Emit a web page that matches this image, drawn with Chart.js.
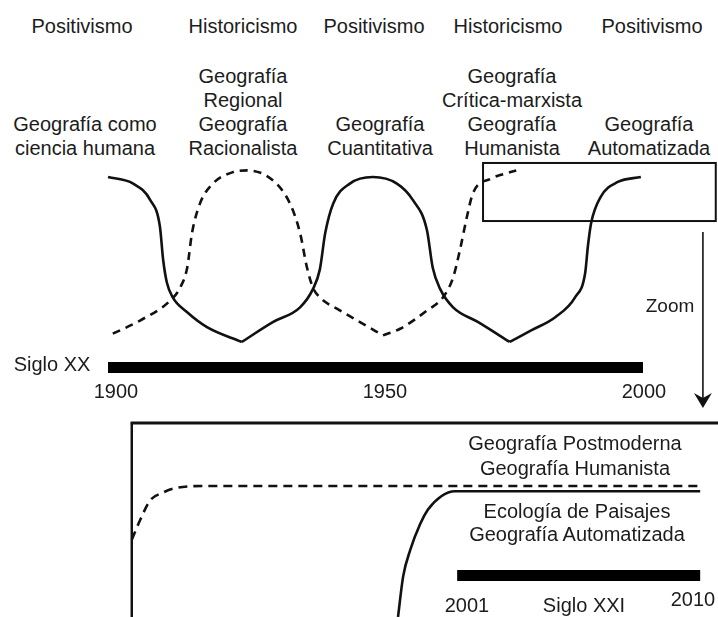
<!DOCTYPE html>
<html>
<head>
<meta charset="utf-8">
<script src="https://cdn.jsdelivr.net/npm/chart.js@4.4.1/dist/chart.umd.min.js"></script>
<style>
    body { margin: 0; background: #fff; }
    #wrap { position: relative; width: 718px; height: 617px; overflow: hidden; background: #fff; }
    canvas { position: absolute; left: 0; }
    .lbl {
        position: absolute;
        transform: translate(-50%, -50%);
        white-space: nowrap;
        text-align: center;
        font: 20px "Liberation Sans", Arial, sans-serif;
        line-height: 24px;
        color: #1c1c1c;
    }
</style>
</head>
<body>
<div id="wrap">
    <canvas id="centuryChart" width="718" height="258" style="top:160px"></canvas>
    <canvas id="zoomChart" width="718" height="199" style="top:418px"></canvas>
</div>
<script>
// Siglo XX: paradigm curves (year, relative weight 0..1)
const solidYears  = [1900, 1904.7, 1907.9, 1909.7, 1910.3, 1911.0, 1912.1, 1914.8, 1918.5, 1925.0,
                     1930.8, 1935.9, 1938.3, 1939.6, 1940.6, 1942.1, 1945.2, 1949.5, 1954.0, 1957.0,
                     1959.6, 1960.7, 1962.1, 1964.5, 1969.2, 1975.1, 1979.1, 1983.6, 1987.3, 1989.2,
                     1989.7, 1990.3, 1992.1, 1995.3, 1999.6];
const solidLevels = [1.00, 0.96, 0.86, 0.70, 0.50, 0.36, 0.27, 0.18, 0.09, 0.00,
                     0.12, 0.21, 0.32, 0.44, 0.66, 0.84, 0.96, 1.00, 0.96, 0.86,
                     0.68, 0.45, 0.32, 0.21, 0.12, 0.00, 0.07, 0.15, 0.27, 0.42,
                     0.58, 0.72, 0.88, 0.97, 1.00];
const solidTroughs = [1925.0, 1975.1];

const dashedYears  = [1900.9, 1906.0, 1911.6, 1913.5, 1914.8, 1915.7, 1917.2, 1919.6, 1923.4, 1926.0,
                      1930.8, 1934.0, 1935.9, 1937.2, 1938.3, 1939.6, 1943.4, 1947.1, 1951.4, 1954.6,
                      1959.6, 1962.6, 1964.5, 1965.8, 1967.1, 1968.2, 1971.6, 1974.2, 1976.3];
const dashedLevels = [0.05, 0.13, 0.25, 0.33, 0.45, 0.66, 0.84, 0.96, 1.03, 1.04,
                      0.98, 0.84, 0.66, 0.45, 0.33, 0.27, 0.19, 0.12, 0.04, 0.08,
                      0.19, 0.27, 0.39, 0.56, 0.76, 0.90, 0.99, 1.02, 1.04];
const dashedTroughs = [1951.4];

const centuryXX = [1900, 2000];
const centuryXXTicks = [1900, 1950, 2000];
const zoomSpan = [1970.1, 2013.6];
const zoomBand = [0.733, 1.085];

// Siglo XXI (zoom)
const zoomDashedYears  = [1988.95, 1989.26, 1989.63, 1990.11, 1990.48, 1991.59, 2010.0];
const zoomDashedLevels = [0.59, 0.74, 0.89, 0.95, 0.98, 1.00, 1.00];
const zoomSolidYears   = [1998.81, 1999.0, 1999.26, 1999.63, 1999.92, 2000.4, 2000.92, 2010.0];
const zoomSolidLevels  = [0.00, 0.31, 0.51, 0.71, 0.82, 0.92, 0.96, 0.96];
const centuryXXI = [2001, 2010];

// Texts
const paradigms = ['Positivismo', 'Historicismo', 'Positivismo', 'Historicismo', 'Positivismo'];
const schools = [
    ['Geografía como', 'ciencia humana'],
    ['Geografía', 'Regional', 'Geografía', 'Racionalista'],
    ['Geografía', 'Cuantitativa'],
    ['Geografía', 'Crítica-marxista', 'Geografía', 'Humanista'],
    ['Geografía', 'Automatizada']
];
const zoomSchoolsTop = ['Geografía Postmoderna', 'Geografía Humanista'];
const zoomSchoolsBottom = ['Ecología de Paisajes', 'Geografía Automatizada'];

const INK = '#111';
const zip = (xs, ys) => xs.map((x, i) => ({ x: x, y: ys[i] }));

// cut a curve at its sharp troughs so each arm stays a clean "V"
function splitAt(points, cuts) {
    const parts = [[]];
    points.forEach(p => {
        parts[parts.length - 1].push(p);
        if (cuts.includes(p.x)) parts.push([p]);
    });
    return parts;
}

// html labels
const wrap = document.getElementById('wrap');
function label(text, cx, cy, extra) {
    const d = document.createElement('div');
    d.className = 'lbl';
    d.innerHTML = text;
    d.style.left = cx + 'px';
    d.style.top = cy + 'px';
    if (extra) Object.assign(d.style, extra);
    wrap.appendChild(d);
}

const paradigmX = [82, 243, 374, 508, 652];
const schoolX = [85, 243, 380, 512, 649];
paradigms.forEach((p, i) => label(p, paradigmX[i], 26));
schools.forEach((lines, i) => label(lines.join('<br>'), schoolX[i], 148 - (lines.length - 1) * 12));

label('Siglo XX', 52, 364);
const tickX = [116, 385, 644];
centuryXXTicks.forEach((t, i) => label(String(t), tickX[i], 391));
label('Zoom', 670, 306, { fontSize: '19px' });

label(zoomSchoolsTop.join('<br>'), 575, 456, { lineHeight: '25px' });
label(zoomSchoolsBottom.join('<br>'), 577, 523, { lineHeight: '23px' });
label(String(centuryXXI[0]), 467, 605);
label('Siglo XXI', 584, 605);
label(String(centuryXXI[1]), 693, 599);

// extra drawing: zoom window + arrow, box frame
const zoomWindowPlugin = {
    id: 'zoomWindow',
    afterDatasetsDraw(chart) {
        const { ctx, scales: { x, y } } = chart;
        ctx.save();
        ctx.strokeStyle = INK;
        ctx.lineWidth = 2;
        const x0 = x.getPixelForValue(zoomSpan[0]), x1 = x.getPixelForValue(zoomSpan[1]);
        const y0 = y.getPixelForValue(zoomBand[1]), y1 = y.getPixelForValue(zoomBand[0]);
        ctx.strokeRect(x0, y0, x1 - x0, y1 - y0);

        // arrow down to the zoom panel
        const ax = x.getPixelForValue(2011.2);
        const top = y1 + 11;
        const tip = chart.height - 10;
        ctx.lineWidth = 1.6;
        ctx.beginPath();
        ctx.moveTo(ax, top);
        ctx.lineTo(ax, tip - 6);
        ctx.stroke();
        ctx.fillStyle = INK;
        ctx.beginPath();
        ctx.moveTo(ax - 9, tip - 15);
        ctx.lineTo(ax, tip - 10);
        ctx.lineTo(ax + 9, tip - 15);
        ctx.lineTo(ax, tip);
        ctx.closePath();
        ctx.fill();
        ctx.restore();
    }
};

const framePlugin = {
    id: 'zoomFrame',
    beforeDatasetsDraw(chart) {
        const { ctx, scales: { x } } = chart;
        const left = x.getPixelForValue(zoomDashedYears[0]);
        ctx.save();
        ctx.strokeStyle = INK;
        ctx.lineWidth = 3;
        ctx.beginPath();
        ctx.moveTo(left - 1, 5);
        ctx.lineTo(chart.width, 5);
        ctx.stroke();
        ctx.lineWidth = 2.5;
        ctx.beginPath();
        ctx.moveTo(left, 4);
        ctx.lineTo(left, chart.height);
        ctx.stroke();
        ctx.restore();
    }
};

const hiddenScales = (xmin, xmax, ymin, ymax) => ({
    x: { type: 'linear', min: xmin, max: xmax, display: false },
    y: { type: 'linear', min: ymin, max: ymax, display: false }
});

const baseOptions = {
    responsive: false,
    animation: false,
    layout: { padding: 0 },
    plugins: { legend: { display: false }, tooltip: { enabled: false } },
    elements: { point: { radius: 0 }, line: { cubicInterpolationMode: 'monotone', fill: false } }
};

const curve = (label, data, dash) => ({
    label: label, data: data, borderColor: INK, borderWidth: 2.6,
    borderDash: dash || [], borderJoinStyle: 'round'
});

const centuryDatasets = [
    ...splitAt(zip(solidYears, solidLevels), solidTroughs).map(d => curve('Positivismo', d)),
    ...splitAt(zip(dashedYears, dashedLevels), dashedTroughs).map(d => curve('Historicismo', d, [8, 6])),
    {
        label: 'Siglo XX',
        data: zip(centuryXX, [-0.155, -0.155]),
        borderColor: '#000', borderWidth: 11, borderCapStyle: 'butt'
    }
];

new Chart(document.getElementById('centuryChart'), {
    type: 'line',
    data: { datasets: centuryDatasets },
    options: { ...baseOptions, scales: hiddenScales(1879.81, 2014.02, -0.461, 1.103) },
    plugins: [zoomWindowPlugin]
});

new Chart(document.getElementById('zoomChart'), {
    type: 'line',
    data: {
        datasets: [
            curve('Geografía Postmoderna / Humanista', zip(zoomDashedYears, zoomDashedLevels), [9, 6]),
            curve('Ecología de Paisajes / Geografía Automatizada', zip(zoomSolidYears, zoomSolidLevels)),
            {
                label: 'Siglo XXI',
                data: zip(centuryXXI, [0.317, 0.317]),
                borderColor: '#000', borderWidth: 11, borderCapStyle: 'butt'
            }
        ]
    },
    options: { ...baseOptions, scales: hiddenScales(1984.07, 2010.66, 0, 1.519) },
    plugins: [framePlugin]
});
</script>
</body>
</html>
